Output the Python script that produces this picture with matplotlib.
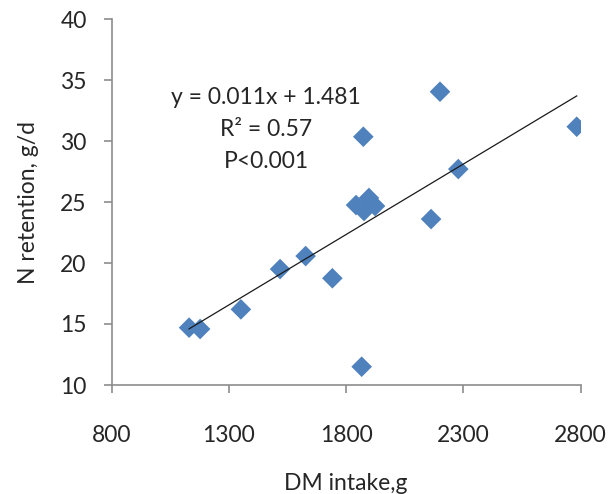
import matplotlib
matplotlib.use("Agg")
import matplotlib.pyplot as plt
import numpy as np

# Data
dm_intake = [1130, 1177, 1351, 1518, 1627, 1741, 1866, 1842, 1876, 1897, 1923, 1873, 2200, 2162, 2278, 2783]
n_retention = [14.70, 14.59, 16.2, 19.5, 20.57, 18.75, 11.5, 24.75, 24.26, 25.33, 24.67, 30.35, 34.04, 23.6, 27.7, 31.17]

trend_slope = 0.01155
trend_intercept = 1.55

x_ticks = [800, 1300, 1800, 2300, 2800]
y_ticks = [10, 15, 20, 25, 30, 35, 40]

eq_lines = ["y = 0.011x + 1.481", "R² = 0.57", "P<0.001"]

plt.rcParams['font.family'] = ['Lato', 'DejaVu Sans']
FS = 16.5

fig = plt.figure(figsize=(6.10, 4.94), dpi=100)
ax = fig.add_axes([111.7/610, 1-385/494, (580.7-111.7)/610, (385-19)/494])

ax.scatter(dm_intake, n_retention, marker='D', s=10.5**2, color='#4F81BD',
           edgecolors='none', zorder=3)

tx = np.array([min(dm_intake), max(dm_intake)])
ax.plot(tx, trend_slope*tx + trend_intercept, color='#1a1a1a', lw=0.9, zorder=4)

ax.set_xlim(800, 2800)
ax.set_ylim(10, 40)
ax.set_xticks(x_ticks)
ax.set_yticks(y_ticks)
ax.tick_params(axis='both', direction='out', length=6, width=1.2, color='#8c8c8c',
               labelsize=FS, labelcolor='#262626')
ax.tick_params(axis='x', pad=23)
ax.tick_params(axis='y', pad=12)
for s in ['top', 'right']:
    ax.spines[s].set_visible(False)
for s in ['left', 'bottom']:
    ax.spines[s].set_color('#8c8c8c')
    ax.spines[s].set_linewidth(1.2)

ax.set_xlabel("DM intake,g", fontsize=FS, color='#262626', labelpad=19)
ax.set_ylabel("N retention, g/d", fontsize=FS, color='#262626', labelpad=15)

ys = [98, 130, 162]
for t, yp in zip(eq_lines, ys):
    fig.text(266/610, 1-yp/494, t, ha='center', va='center', fontsize=FS, color='#262626')

fig.savefig("out.png", dpi=100)
